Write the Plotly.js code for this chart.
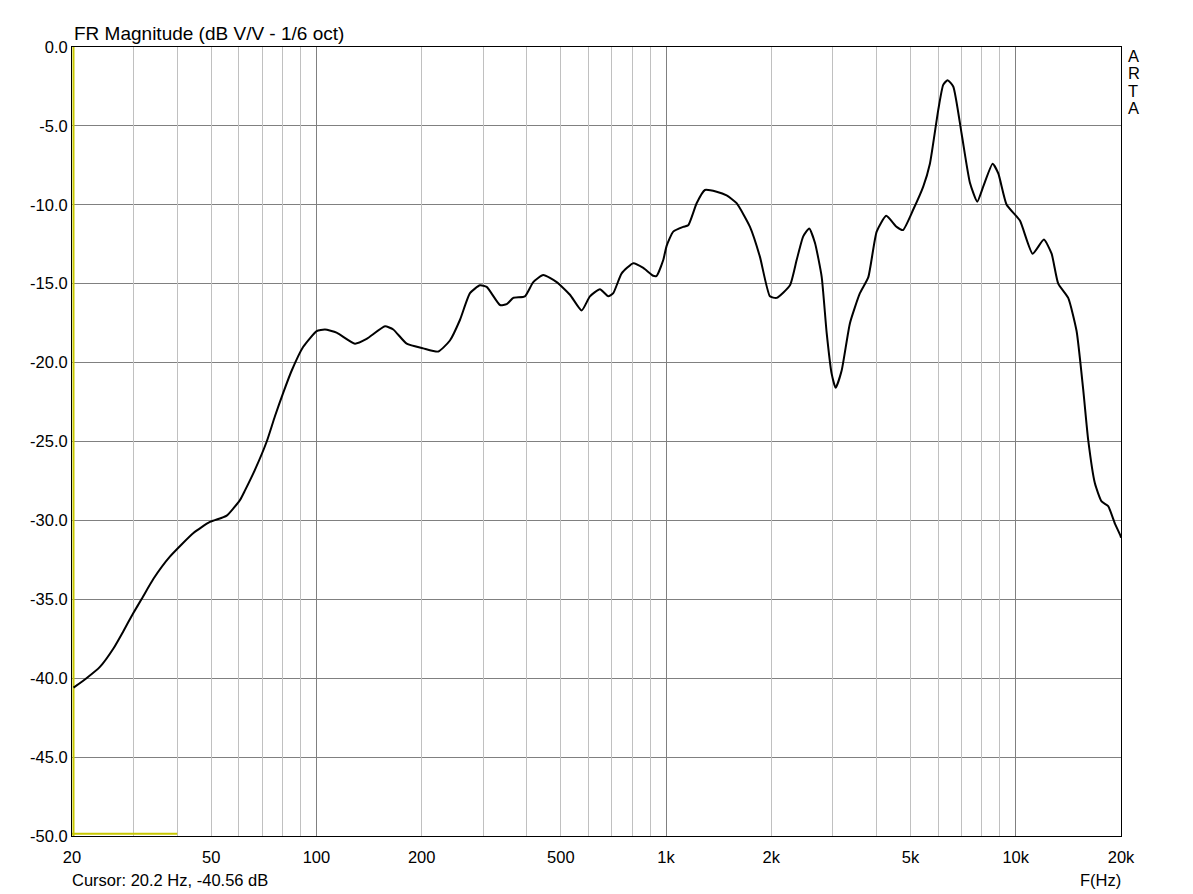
<!DOCTYPE html>
<html>
<head>
<meta charset="utf-8">
<script src="https://cdn.plot.ly/plotly-3.0.1.min.js"></script>
<style>
html,body{margin:0;padding:0;background:#fff;}
#chart{width:1193px;height:894px;}
</style>
</head>
<body>
<div id="chart"></div>
<script>
// Frequency response (1/6 oct smoothed)
const freqHz = [20.2, 22.0, 24.0, 26.3, 28.0, 29.9, 31.6, 34.2, 38.1, 44.5, 49.6, 55.4, 60.5, 62.5, 66.7, 72.1, 76.1, 80.4, 85.0, 91.7,
  100.2, 105.8, 114.2, 128.9, 139.2, 157.1, 165.9, 181.2, 202.1, 223.1, 240.9, 257.3, 274.9, 293.6, 306.9, 335.0, 350.1, 365.6, 394.8, 417.0,
  445.4, 486.6, 531.1, 573.6, 605.8, 647.0, 683.4, 706.3, 746.4, 805.8, 860.6, 919.0, 939.8, 981.6, 1003.6, 1048.4, 1119.6, 1157.2, 1223.0, 1291.6,
  1395.0, 1489.8, 1591.2, 1737.6, 1855.6, 1981.6, 2071.2, 2261, 2362.8, 2467.4, 2567, 2665, 2785.6, 2878.8, 2975, 3054, 3178, 3356, 3584, 3786,
  4002, 4262, 4564, 4758, 5092, 5438, 5682, 6002, 6202, 6384, 6626, 7002, 7396, 7760, 8072, 8588, 8912, 9418, 10278, 11176,
  12038, 12664, 13228, 14126, 14928, 15592, 16114, 16842, 17600, 18382, 19214, 19950, 20000];
const magDb = [-40.6, -40.0, -39.3, -38.1, -37.05, -35.9, -35.0, -33.7, -32.3, -30.8, -30.1, -29.7, -28.7, -28.1, -26.8, -25.0, -23.4, -21.9, -20.5, -19.0,
  -18.0, -17.9, -18.1, -18.8, -18.5, -17.7, -17.9, -18.8, -19.1, -19.3, -18.6, -17.3, -15.6, -15.1, -15.2, -16.35, -16.3, -15.9, -15.8, -14.9,
  -14.45, -14.9, -15.7, -16.7, -15.8, -15.35, -15.8, -15.6, -14.35, -13.7, -14.0, -14.5, -14.5, -13.5, -12.6, -11.7, -11.4, -11.3, -9.9, -9.06,
  -9.17, -9.4, -9.9, -11.4, -13.3, -15.8, -15.9, -15.1, -13.5, -12.0, -11.5, -12.4, -14.55, -18.1, -20.7, -21.6, -20.5, -17.5, -15.6, -14.6,
  -11.7, -10.7, -11.4, -11.6, -10.3, -8.85, -7.4, -4.0, -2.4, -2.1, -2.5, -5.5, -8.6, -9.8, -8.85, -7.4, -8.0, -10.0, -11.0, -13.1,
  -12.2, -13.1, -15.0, -15.9, -18.0, -21.7, -24.9, -27.65, -28.8, -29.1, -30.2, -31.0, -31.1];

// Cursor marker
const cursorFreq = 20.2;
const cursorDb = -40.56;
const cursorMarkX = [20, 40];
const cursorMarkY = [-49.85, -49.85];

// Axis ticks
const xTickVals = [20, 50, 100, 200, 500, 1000, 2000, 5000, 10000, 20000];
const xTickText = ['20', '50', '100', '200', '500', '1k', '2k', '5k', '10k', '20k'];
const xMinorGrid = [30, 40, 50, 60, 70, 80, 90, 200, 300, 400, 500, 600, 700, 800, 900,
  2000, 3000, 4000, 5000, 6000, 7000, 8000, 9000];
const xMajorGrid = [100, 1000, 10000];
const yTickVals = [0, -5, -10, -15, -20, -25, -30, -35, -40, -45, -50];
const yTickText = ['0.0', '-5.0', '-10.0', '-15.0', '-20.0', '-25.0', '-30.0', '-35.0', '-40.0', '-45.0', '-50.0'];

const FONT = '"Liberation Sans", Arial, sans-serif';
const xr = [Math.log10(20), Math.log10(20000)];

const traces = [
  {x: [], y: [], xaxis: 'x2', yaxis: 'y', type: 'scatter', mode: 'lines', hoverinfo: 'skip', showlegend: false},
  {x: [], y: [], xaxis: 'x3', yaxis: 'y', type: 'scatter', mode: 'lines', hoverinfo: 'skip', showlegend: false},
  {x: [cursorFreq, cursorFreq], y: [-50, 0], type: 'scatter', mode: 'lines',
   line: {color: '#c8c800', width: 2}, hoverinfo: 'skip', showlegend: false},
  {x: cursorMarkX, y: cursorMarkY, type: 'scatter', mode: 'lines',
   line: {color: '#c8c800', width: 2}, hoverinfo: 'skip', showlegend: false},
  {x: freqHz, y: magDb, type: 'scatter', mode: 'lines',
   line: {color: '#000000', width: 2, shape: 'spline', smoothing: 0.5}, showlegend: false}
];

const annFont = {family: FONT, size: 16.5, color: '#000'};
const artaY = [56, 73, 91, 108];
const artaL = ['A', 'R', 'T', 'A'];
const annotations = artaL.map((t, i) => ({
  text: t, xref: 'paper', yref: 'paper', x: 1 + 5 / 1049, y: 1 - (artaY[i] - 47) / 789,
  xanchor: 'left', yanchor: 'middle', showarrow: false, font: annFont
}));
annotations.push({
  text: 'Cursor: ' + cursorFreq.toFixed(1) + ' Hz, ' + cursorDb.toFixed(2).replace('\u2212', '-') + ' dB',
  xref: 'paper', yref: 'paper', x: -2 / 1049, y: -(880 - 836) / 789,
  xanchor: 'left', yanchor: 'middle', showarrow: false, font: annFont
});
annotations.push({
  text: 'F(Hz)', xref: 'paper', yref: 'paper', x: 1 + 2 / 1049, y: -(880 - 836) / 789,
  xanchor: 'right', yanchor: 'middle', showarrow: false, font: annFont
});

const layout = {
  width: 1193, height: 894,
  margin: {l: 72, r: 72, t: 47, b: 58},
  paper_bgcolor: '#ffffff', plot_bgcolor: '#ffffff',
  font: {family: FONT, size: 16, color: '#000'},
  title: {text: 'FR Magnitude (dB V/V - 1/6 oct)', font: {family: FONT, size: 19, color: '#000'},
          xref: 'container', yref: 'container', x: 74 / 1193, xanchor: 'left', y: 1 - 33 / 894, yanchor: 'middle'},
  xaxis: {type: 'log', range: xr, tickmode: 'array', tickvals: xTickVals, ticktext: xTickText,
          showgrid: false, zeroline: false, showline: true, mirror: true, linecolor: '#000', linewidth: 1,
          ticks: '', ticklabelstandoff: 6, tickfont: {family: FONT, size: 16.5, color: '#000'}, fixedrange: true},
  xaxis2: {type: 'log', range: xr, overlaying: 'x', tickmode: 'array', tickvals: xMinorGrid,
           showticklabels: false, showgrid: true, gridcolor: '#c0c0c0', gridwidth: 1, zeroline: false,
           showline: false, ticks: ''},
  xaxis3: {type: 'log', range: xr, overlaying: 'x', tickmode: 'array', tickvals: xMajorGrid,
           showticklabels: false, showgrid: true, gridcolor: '#808080', gridwidth: 1, zeroline: false,
           showline: false, ticks: ''},
  yaxis: {range: [-50, 0], tickmode: 'array', tickvals: yTickVals, ticktext: yTickText,
          showgrid: true, gridcolor: '#808080', gridwidth: 1, zeroline: false,
          showline: true, mirror: true, linecolor: '#000', linewidth: 1, ticks: '',
          tickfont: {family: FONT, size: 16.5, color: '#000'}, fixedrange: true},
  annotations: annotations,
  showlegend: false
};

Plotly.newPlot('chart', traces, layout, {displayModeBar: false, staticPlot: true});
</script>
</body>
</html>
